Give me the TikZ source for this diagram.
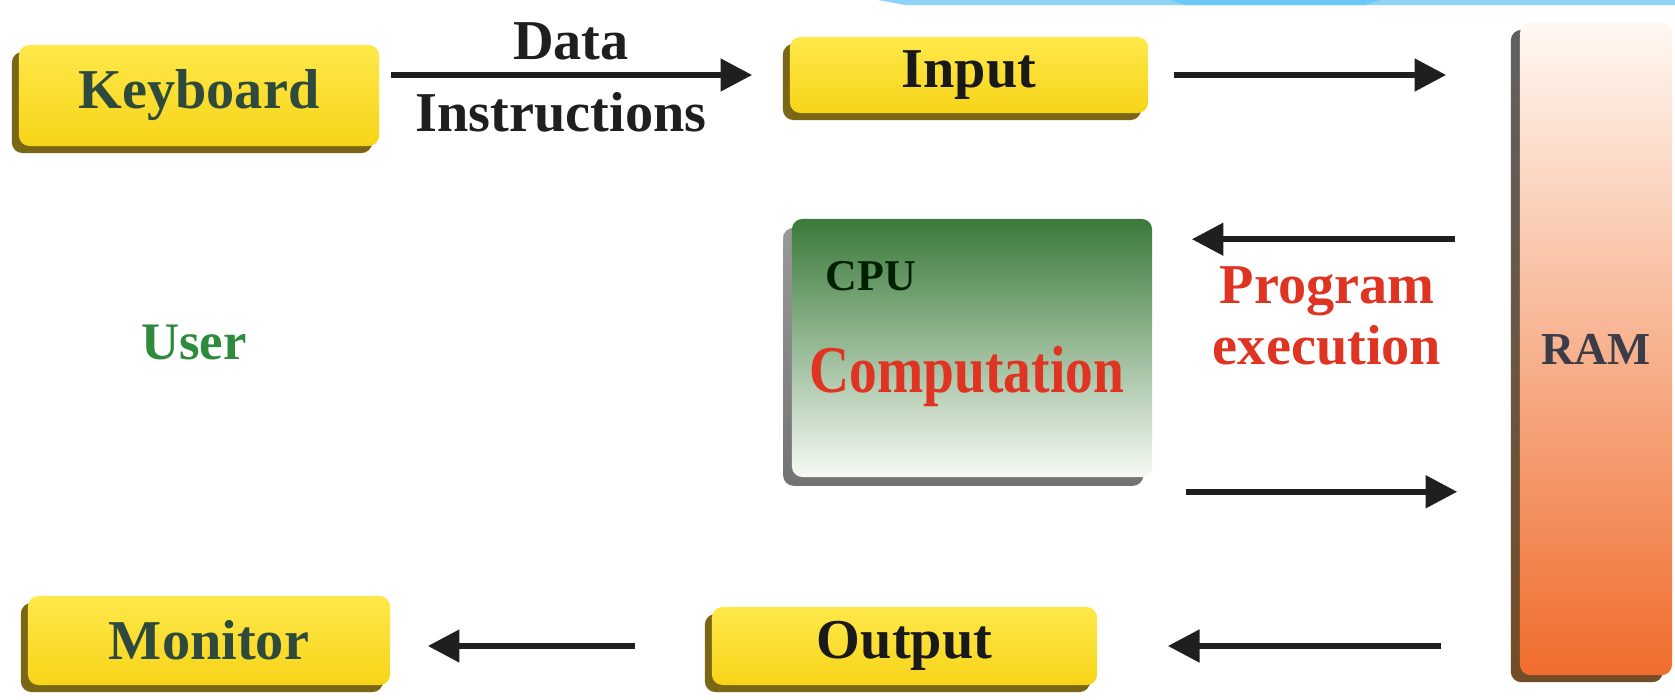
\documentclass[tikz,border=0pt]{standalone}
\usepackage{fontspec}
\setmainfont{Liberation Serif}
\usetikzlibrary{arrows.meta,shadows,calc}
\definecolor{ylwT}{HTML}{FFE84A}
\definecolor{ylwB}{HTML}{F6D418}
\definecolor{ylwS}{HTML}{7A6614}
\definecolor{kbtext}{HTML}{2E4A3C}
\definecolor{grnT}{HTML}{3A7A3A}
\definecolor{grnM}{HTML}{7FAA80}
\definecolor{grnB}{HTML}{F6FAF4}
\definecolor{ramT}{HTML}{FFF8F2}
\definecolor{ramM}{HTML}{F8B488}
\definecolor{ramB}{HTML}{F06C2C}
\definecolor{ramtxt}{HTML}{3C3C48}
\definecolor{redtxt}{HTML}{E03422}
\definecolor{usergrn}{HTML}{2E8A3C}
\definecolor{skyblue}{HTML}{8ED4F8}
\definecolor{skyblueD}{HTML}{6CC8F6}
\tikzset{
  ybox/.style={rectangle, rounded corners=3pt, inner sep=0pt,
    top color=ylwT, bottom color=ylwB, draw=none,
    general shadow={shadow xshift=-2pt, shadow yshift=-2pt, fill=ylwS},
    font=\bfseries\fontsize{16}{18}\selectfont},
  arr/.style={line width=1.7pt, draw=black!88, -{Triangle[length=9pt,width=9pt]}},
  lbl/.style={font=\bfseries\fontsize{16}{18}\selectfont, text=black!88, inner sep=0pt}
}
\begin{document}
\begin{tikzpicture}[x=0.01cm, y=-0.01cm]
\useasboundingbox[fill=white] (0,0) rectangle (1675,700);
% top strip
\fill[skyblue] (878,0) -- (1675,0) -- (1675,5) -- (905,5) -- cycle;
\fill[skyblueD] (1170,0) -- (1380,0) -- (1365,5) -- (1185,5) -- cycle;

% yellow boxes
\node[ybox, minimum width=3.60cm, minimum height=1.01cm, text=kbtext] (kb) at (199,95.5) {Keyboard};
\node[ybox, minimum width=3.58cm, minimum height=0.76cm, text=black!90] (in) at (969,75) {Input};
\node[ybox, minimum width=3.62cm, minimum height=0.89cm, text=kbtext] (mon) at (209,640.5) {Monitor};
\node[ybox, minimum width=3.85cm, minimum height=0.78cm, text=black!90] (out) at (904.5,646) {Output};

% CPU
\node[rectangle, rounded corners=3pt, inner sep=0pt, minimum width=3.60cm, minimum height=2.58cm,
  top color=grnT, middle color=grnM, bottom color=grnB,
  general shadow={shadow xshift=-2.5pt, shadow yshift=-2.5pt, top color=gray!80, bottom color=gray!90!black}] (cpu) at (972,348) {};
\node[font=\bfseries\fontsize{12.5}{14}\selectfont, text=black!80!green!60!black, inner sep=0pt] (cpulbl) at (871,276) {CPU};
\node[font=\bfseries\fontsize{19}{22}\selectfont, text=redtxt, inner sep=0pt] (comp) at (967,376) {\scalebox{0.83}[1]{Computation}};

% RAM
\node[rectangle, rounded corners=3pt, inner sep=0pt, minimum width=1.52cm, minimum height=6.52cm,
  top color=ramT, middle color=ramM, bottom color=ramB,
  general shadow={shadow xshift=-2.6pt, shadow yshift=-2pt, top color=gray!75!black, bottom color=brown!60!black},
  font=\bfseries\fontsize{13}{15}\selectfont, text=ramtxt] (ram) at (1596,349) {RAM};

% labels
\node[lbl] (data) at (571,41) {Data};
\node[lbl] (instr) at (561,112) {Instructions};
\node[font=\bfseries\fontsize{16}{17.5}\selectfont, text=redtxt, align=center, inner sep=0pt] (prog) at (1327,316) {Program\\execution};
\node[font=\bfseries\fontsize{15}{17}\selectfont, text=usergrn, inner sep=0pt] (user) at (194,342) {User};

% arrows
\coordinate (t3) at ($(cpu.north east)+(0,21)$);
\coordinate (t4) at ($(cpu.south east)+(0,14)$);
\draw[arr, shorten <=0.11cm, shorten >=0.37cm] (kb.east |- in.west) -- (in.west);
\draw[arr, shorten <=0.25cm, shorten >=0.73cm] (in.east) -- (in.east -| ram.west);
\draw[arr, shorten <=0.64cm, shorten >=0.39cm] (t3 -| ram.west) -- (t3);
\draw[arr, shorten <=0.33cm, shorten >=0.62cm] (t4) -- (t4 -| ram.west);
\draw[arr, shorten <=0.78cm, shorten >=0.70cm] (out.east -| ram.west) -- (out.east);
\draw[arr, shorten <=0.76cm, shorten >=0.37cm] (out.west) -- (out.west -| mon.east);
\end{tikzpicture}
\end{document}
